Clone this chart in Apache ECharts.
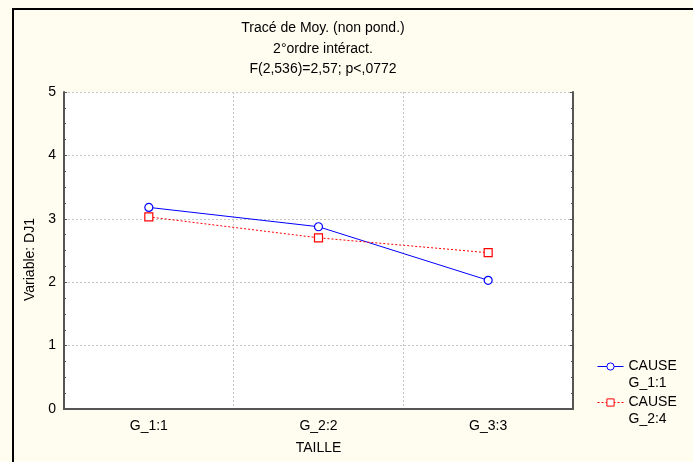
<!DOCTYPE html>
<html>
<head>
<meta charset="utf-8">
<script src="https://cdn.jsdelivr.net/npm/echarts@6/dist/echarts.min.js"></script>
<style>
  html, body { margin: 0; padding: 0; background: #fffcf0; }
  #chart { width: 693px; height: 462px; }
</style>
</head>
<body>
<div id="chart"></div>
<script>
const categories = ['G_1:1', 'G_2:2', 'G_3:3'];
const cause1 = [3.18, 2.875, 2.03];
const cause2 = [3.03, 2.70, 2.465];
const seriesNames = ['CAUSE G_1:1', 'CAUSE G_2:4'];
const titleLines = ['Tracé de Moy. (non pond.)', '2°ordre intéract.', 'F(2,536)=2,57; p<,0772'];

const font = 'Liberation Sans, Arial, sans-serif';
const chart = echarts.init(document.getElementById('chart'));

// top and right sides of the plot box
const frameAxis = {
  axisLine: { show: true, lineStyle: { color: '#555', width: 2 } },
  axisLabel: { show: false },
  splitLine: { show: false }
};

chart.setOption({
  backgroundColor: '#fffcf0',
  animation: false,
  textStyle: { fontFamily: font },
  graphic: [{
    type: 'rect',
    shape: { x: 13, y: 9, width: 700, height: 470 },
    style: { fill: 'none', stroke: '#000', lineWidth: 2 }
  }],
  title: {
    text: titleLines.join('\n'),
    left: 318,
    textAlign: 'center',
    top: 13,
    textStyle: { fontFamily: font, fontSize: 14, fontWeight: 'normal', color: '#000', lineHeight: 20.5 }
  },
  grid: {
    left: 64, right: 120, top: 92, bottom: 53,
    show: true, backgroundColor: '#fff', borderWidth: 0
  },
  legend: {
    orient: 'vertical',
    left: 592,
    top: 336,
    height: 125,
    itemWidth: 26,
    itemHeight: 9,
    itemGap: -15,
    data: seriesNames,
    lineStyle: { width: 1 },
    itemStyle: { borderWidth: 1 },
    // blank first line so that "CAUSE" sits level with the icon
    formatter: name => '\n' + name.replace(' ', '\n'),
    textStyle: { fontFamily: font, fontSize: 14, color: '#000', lineHeight: 17 }
  },
  xAxis: [{
    type: 'category',
    data: categories,
    name: 'TAILLE',
    nameLocation: 'middle',
    nameGap: 32,
    nameTextStyle: { fontFamily: font, fontSize: 14, color: '#000' },
    axisLine: { lineStyle: { color: '#555', width: 2 } },
    axisTick: { show: false },
    axisLabel: { color: '#000', fontSize: 14, margin: 10 },
    splitLine: { show: true, interval: 0, lineStyle: { color: '#c4c4c4', type: [2, 2], width: 1 } }
  }, {
    type: 'category',
    data: categories,
    position: 'top',
    axisTick: { show: false },
    ...frameAxis
  }],
  yAxis: [{
    type: 'value',
    min: 0, max: 5, interval: 1,
    name: 'Variable: DJ1',
    nameLocation: 'middle',
    nameGap: 26,
    nameTextStyle: { fontFamily: font, fontSize: 14, color: '#000', padding: [0, 18, 0, 0] },
    axisLine: { show: true, lineStyle: { color: '#555', width: 2 } },
    axisTick: { show: true, inside: true, length: 3, lineStyle: { color: '#555' } },
    minorTick: { show: true, splitNumber: 4, length: 2, lineStyle: { color: '#555' } },
    axisLabel: { color: '#000', fontSize: 14, margin: 8 },
    splitLine: { show: true, lineStyle: { color: '#c4c4c4', type: [2, 2], width: 1 } }
  }, {
    type: 'value',
    min: 0, max: 5, interval: 1,
    position: 'right',
    axisTick: { show: true, inside: true, length: 3, lineStyle: { color: '#555' } },
    minorTick: { show: true, splitNumber: 4, length: 2, lineStyle: { color: '#555' } },
    ...frameAxis
  }],
  series: [{
    name: seriesNames[0],
    type: 'line',
    data: cause1,
    symbol: 'circle',
    symbolSize: 8,
    color: '#0000ff',
    lineStyle: { color: '#0000ff', width: 1 },
    itemStyle: { color: '#fff', borderColor: '#0000ff', borderWidth: 1.2 }
  }, {
    name: seriesNames[1],
    type: 'line',
    data: cause2,
    symbol: 'rect',
    symbolSize: 8,
    color: '#ff0000',
    lineStyle: { color: '#ff0000', width: 1, type: [2, 2] },
    itemStyle: { color: '#fff', borderColor: '#ff0000', borderWidth: 1.2 }
  }]
});
</script>
</body>
</html>
